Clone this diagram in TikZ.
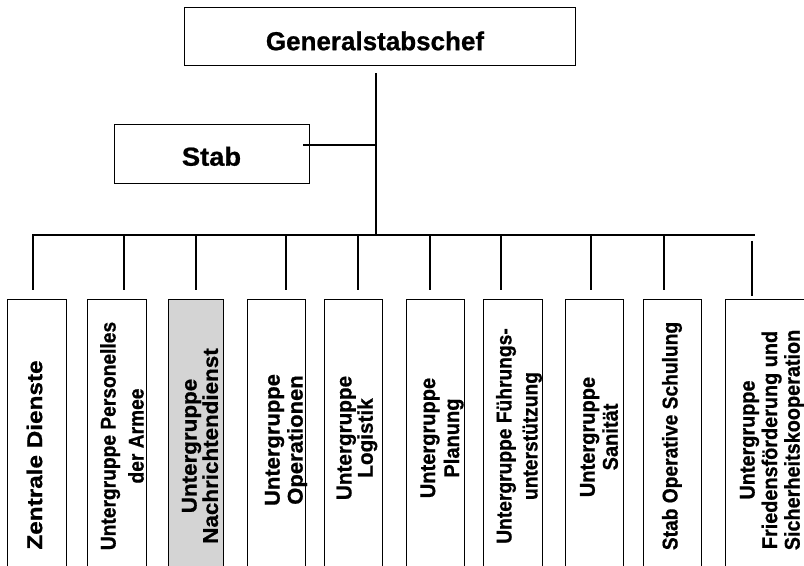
\documentclass[tikz,border=0pt]{standalone}
\usepackage{fontspec}
\setmainfont{Liberation Sans}[BoldFeatures={FakeBold=0.8}]
\newcommand\hstretch[2]{\scalebox{#1}[1]{#2}}
\begin{document}
\begin{tikzpicture}[x=0.75pt,y=-0.75pt,
  box/.style={draw, line width=0.6pt, inner sep=0pt},
  unit/.style={box, anchor=north west, minimum height=280*0.75pt},
  conn/.style={line width=1.1pt},
  lbl/.style={rotate=90, align=center, inner sep=0pt, font=\fontsize{16}{#1}\selectfont\bfseries},
  head/.style={font=\fontsize{19.5}{23}\selectfont\bfseries},
]
\clip (0,0) rectangle (804,566);
\fill[white] (0,0) rectangle (804,566);

% top boxes
\node[box, head, minimum width=391*0.75pt, minimum height=58*0.75pt,
      text height=21.3pt, text depth=0pt] (gs) at (379.5,36) {\hspace*{-6.75pt}Generalstabschef};
\node[box, head, minimum width=195*0.75pt, minimum height=59*0.75pt,
      text height=18.3pt, text depth=0pt] (stab) at (211.5,153.5) {\hstretch{1.05}{Stab}};

% unit boxes
\node[unit, minimum width=59*0.75pt] (b1) at (7,299) {};
\node[unit, minimum width=59*0.75pt] (b2) at (87,299) {};
\node[unit, minimum width=55*0.75pt, fill=black!17] (b3) at (168,299) {};
\node[unit, minimum width=58*0.75pt] (b4) at (247,299) {};
\node[unit, minimum width=58*0.75pt] (b5) at (324,299) {};
\node[unit, minimum width=58*0.75pt] (b6) at (406,299) {};
\node[unit, minimum width=59*0.75pt] (b7) at (483,299) {};
\node[unit, minimum width=58*0.75pt] (b8) at (565,299) {};
\node[unit, minimum width=58*0.75pt] (b9) at (643,299) {};
\node[unit, minimum width=110*0.75pt] (b10) at (725,299) {};

% labels
\node[lbl=18] (t1) at (34.5,455) {\hstretch{1.14}{Zentrale Dienste}};
\node[lbl=21] (t2) at (122,436) {\hstretch{0.9}{Untergruppe Personelles}\\\hstretch{0.9}{der Armee}};
\node[lbl=14.5] (t3) at (200,446) {\hstretch{1.05}{Untergruppe}\\\hstretch{1.05}{Nachrichtendienst}};
\node[lbl=17.25] (t4) at (286,440) {\hstretch{1.03}{Untergruppe}\\\hstretch{1.03}{Operationen}};
\node[lbl=14.5] (t5) at (357,438) {\hstretch{0.97}{Untergruppe}\\\hstretch{0.97}{Logistik}};
\node[lbl=18] (t6) at (442,438) {\hstretch{0.94}{Untergruppe}\\\hstretch{0.94}{Planung}};
\node[lbl=19.5] (t7) at (519,436) {\hstretch{0.9}{Untergruppe Führungs-}\\\hstretch{0.9}{unterstützung}};
\node[lbl=17.25] (t8) at (599,437) {\hstretch{0.94}{Untergruppe}\\\hstretch{0.94}{Sanität}};
\node[lbl=18] (t9) at (672,436) {\hstretch{0.9}{Stab Operative Schulung}};
\node[lbl=16.9] (t10) at (772,440) {\hstretch{0.93}{Untergruppe}\\\hstretch{0.93}{Friedensförderung und}\\\hstretch{0.93}{Sicherheitskooperation}};

% connectors
\coordinate (bus) at (376,235);
\coordinate (sj) at (376,145);
\draw[conn, shorten <=6pt] (gs.south -| bus) -- (bus);
\draw[conn] ([xshift=-4.5pt]stab.east |- sj) -- (sj);

\coordinate (d1) at (33,235);
\coordinate (d2) at (124,235);
\coordinate (d3) at (196,235);
\coordinate (d4) at (286,235);
\coordinate (d5) at (358,235);
\coordinate (d6) at (430,235);
\coordinate (d7) at (501,235);
\coordinate (d8) at (591,235);
\coordinate (d9) at (664,235);
\coordinate (d10) at (752,235);
\draw[conn, line cap=rect] (d1) -- ([xshift=1.5pt]d10);
\foreach \i in {1,...,9}{
  \draw[conn, shorten >=6.75pt] (d\i) -- (d\i |- b\i.north);
}
\draw[conn, shorten <=4.5pt, shorten >=2.25pt] (d10) -- (d10 |- b10.north);
\end{tikzpicture}
\end{document}
